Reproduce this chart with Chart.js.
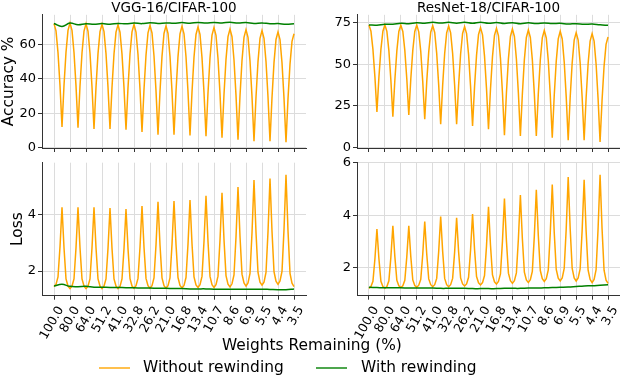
<!DOCTYPE html>
<html><head><meta charset="utf-8">
<script src="https://cdn.jsdelivr.net/npm/chart.js@4"></script>
<style>
html,body{margin:0;padding:0;background:#fff;width:620px;height:378px;overflow:hidden;font-family:"DejaVu Sans",sans-serif;color:#000;}
canvas{position:absolute;}
#xlabel{position:absolute;left:222px;top:336px;font-size:15.4px;white-space:nowrap;}
.sw{position:absolute;height:2px;top:367px;width:31px;}
.lt{position:absolute;top:358px;font-size:15.4px;white-space:nowrap;}
</style></head><body>
<canvas id="c1" width="310" height="160" style="left:0;top:0"></canvas>
<canvas id="c2" width="310" height="160" style="left:310px;top:0"></canvas>
<canvas id="c3" width="310" height="190" style="left:0;top:150px"></canvas>
<canvas id="c4" width="310" height="190" style="left:310px;top:150px"></canvas>
<div id="xlabel">Weights Remaining (%)</div>
<div class="sw" style="left:99px;background:#ffc04d"></div>
<div class="lt" style="left:143px">Without rewinding</div>
<div class="sw" style="left:316px;background:#4da64d"></div>
<div class="lt" style="left:361px">With rewinding</div>
<script>
const categories = ['100.0','80.0','64.0','51.2','41.0','32.8','26.2','21.0','16.8','13.4','10.7','8.6','6.9','5.5','4.4','3.5'];
const seriesNames = ['Without rewinding','With rewinding'];
const panelTitles = ['VGG-16/CIFAR-100','ResNet-18/CIFAR-100'];

const vggAccWithout = [
71.9,67.7,55.1,36.0,12.0,36.1,55.3,68.0,
72.2,68.0,55.2,35.8,11.6,35.7,54.9,67.6,
71.8,67.5,54.7,35.2,10.8,35.1,54.5,67.3,
71.5,67.3,54.5,35.1,10.8,35.0,54.3,67.0,
71.2,66.9,54.2,34.7,10.4,34.8,54.3,67.1,
71.4,67.0,54.0,34.0,9.1,33.8,53.6,66.6,
70.9,66.5,53.1,32.9,7.5,32.7,52.9,66.2,
70.6,66.2,52.9,32.7,7.5,32.7,52.8,66.0,
70.4,66.0,52.7,32.4,7.1,32.3,52.4,65.6,
70.0,65.6,52.2,32.0,6.6,31.8,52.0,65.2,
69.6,65.1,51.7,31.3,5.8,31.0,51.2,64.4,
68.8,64.3,50.8,30.3,4.6,30.1,50.5,63.9,
68.4,63.9,50.3,29.6,3.7,29.4,49.9,63.4,
67.9,63.4,49.9,29.4,3.7,29.1,49.3,62.7,
67.1,62.6,49.2,28.7,3.1,28.3,48.4,61.6,
66.0];
const vggAccWith = [72.0,70.3,72.2,71.2,71.8,71.5,71.9,71.6,72.0,71.8,72.2,71.9,72.4,72.0,72.3,72.1,72.5,72.1,72.6,72.2,72.6,72.3,72.7,72.2,72.5,72.0,72.3,71.8,71.9,71.6,71.8];

const resAccWithout = [
73.6,69.9,59.0,42.3,21.4,42.3,59.0,69.9,
73.6,69.8,58.2,40.6,18.6,40.6,58.1,69.7,
73.5,69.7,58.4,41.2,19.6,41.2,58.4,69.7,
73.5,69.5,57.7,39.6,17.0,39.5,57.5,69.3,
73.2,69.1,56.6,37.7,14.0,37.6,56.5,68.9,
73.0,68.9,56.5,37.6,14.0,37.4,56.2,68.5,
72.6,68.4,55.9,36.8,13.0,36.6,55.5,67.9,
72.0,67.7,54.9,35.4,11.0,35.2,54.6,67.4,
71.6,67.1,53.6,33.1,7.4,32.9,53.3,66.7,
71.2,66.7,53.2,32.7,7.0,32.4,52.8,66.1,
70.6,66.1,52.8,32.4,7.0,32.3,52.6,65.9,
70.3,65.8,52.3,31.7,6.0,31.5,51.9,65.3,
69.8,65.2,51.5,30.6,4.4,30.2,50.9,64.5,
69.0,64.5,50.9,30.2,4.4,30.0,50.5,63.9,
68.4,63.9,50.2,29.4,3.4,28.6,48.8,62.0,
66.4];
const resAccWith = [73.6,73.5,74.1,74.0,74.6,74.4,74.9,74.6,75.2,74.8,75.2,74.7,75.2,74.6,75.2,74.6,75.1,74.5,75.0,74.4,74.9,74.5,74.8,74.5,74.6,74.2,74.4,74.0,74.2,73.7,73.4];

const vggLossWithout = [
1.45,1.53,1.79,2.85,4.25,2.82,1.72,1.47,
1.38,1.47,1.72,2.82,4.25,2.82,1.72,1.47,
1.38,1.47,1.72,2.82,4.25,2.82,1.72,1.47,
1.38,1.47,1.72,2.80,4.22,2.80,1.72,1.47,
1.38,1.46,1.72,2.79,4.19,2.79,1.73,1.47,
1.39,1.48,1.74,2.84,4.29,2.84,1.74,1.48,
1.39,1.48,1.76,2.92,4.44,2.92,1.76,1.48,
1.39,1.48,1.76,2.93,4.47,2.94,1.77,1.49,
1.40,1.49,1.77,2.95,4.50,2.96,1.79,1.51,
1.42,1.52,1.81,3.04,4.65,3.04,1.81,1.52,
1.42,1.52,1.82,3.09,4.76,3.10,1.84,1.54,
1.44,1.55,1.86,3.20,4.96,3.22,1.89,1.58,
1.47,1.58,1.92,3.34,5.21,3.36,1.95,1.61,
1.50,1.61,1.95,3.38,5.26,3.40,1.98,1.64,
1.53,1.65,1.99,3.46,5.39,3.42,1.92,1.57,
1.45];
const vggLossWith = [1.47,1.53,1.46,1.45,1.46,1.43,1.43,1.42,1.42,1.41,1.41,1.40,1.40,1.39,1.39,1.38,1.38,1.37,1.37,1.37,1.36,1.36,1.36,1.36,1.36,1.36,1.36,1.35,1.34,1.34,1.37];

const resLossWithout = [
1.21,1.28,1.48,2.34,3.47,2.34,1.48,1.28,
1.21,1.28,1.50,2.40,3.59,2.42,1.52,1.31,
1.24,1.31,1.52,2.42,3.59,2.42,1.53,1.32,
1.25,1.33,1.55,2.51,3.76,2.52,1.57,1.35,
1.27,1.35,1.59,2.61,3.95,2.61,1.59,1.35,
1.27,1.35,1.59,2.59,3.90,2.60,1.61,1.38,
1.30,1.38,1.63,2.67,4.04,2.69,1.66,1.42,
1.34,1.43,1.70,2.83,4.32,2.85,1.72,1.46,
1.37,1.47,1.76,3.00,4.63,3.02,1.79,1.50,
1.40,1.50,1.80,3.09,4.77,3.10,1.83,1.53,
1.43,1.54,1.86,3.20,4.97,3.22,1.89,1.58,
1.47,1.58,1.91,3.32,5.17,3.33,1.93,1.60,
1.49,1.61,1.97,3.47,5.45,3.47,1.97,1.61,
1.49,1.61,1.95,3.42,5.35,3.39,1.90,1.55,
1.43,1.55,1.92,3.49,5.54,3.47,1.90,1.52,
1.40];
const resLossWith = [1.25,1.24,1.23,1.23,1.23,1.22,1.22,1.22,1.22,1.21,1.21,1.21,1.21,1.20,1.20,1.20,1.20,1.21,1.21,1.21,1.22,1.22,1.23,1.24,1.25,1.26,1.28,1.30,1.31,1.33,1.35];

const vggAccTicks = [0,20,40,60];
const resAccTicks = [0,25,50,75];
const vggLossTicks = [2,4];
const resLossTicks = [2,4,6];

const ORANGE = '#ffa500', GREEN = '#008000';
const FAMILY = '"DejaVu Sans", sans-serif';
const GRID = '#dcdcdc', AXIS = '#333333';

function pts(arr, step){ return arr.map((v,i)=>({x:i*step, y:v})); }

function makeChart(id, o){
  return new Chart(document.getElementById(id), {
    type:'line',
    data:{datasets:[
      {label:seriesNames[0], data:pts(o.without, 1/8), borderColor:ORANGE, borderWidth:1.5, pointRadius:0, tension:0, order:2},
      {label:seriesNames[1], data:pts(o.withR, 1/2), borderColor:GREEN, borderWidth:1.5, pointRadius:0, tension:0.4, order:1}
    ]},
    options:{
      responsive:false, animation:false, devicePixelRatio:1,
      layout:{padding:{top:o.padTop, right:o.padRight, left:0, bottom:0}},
      plugins:{
        legend:{display:false}, tooltip:{enabled:false},
        title:{display:!!o.title, text:o.title||'', fullSize:false, color:'#000',
               font:{family:FAMILY, size:13.5, weight:'normal', lineHeight:0.95}, padding:{top:2,bottom:0}}
      },
      scales:{
        x:{type:'linear', min:-0.75, max:15.75,
          afterBuildTicks:s=>{ s.ticks = categories.map((c,i)=>({value:i})); },
          afterFit:s=>{ s.height = o.xH; s.paddingLeft = 0; s.paddingRight = 0; },
          ticks:{display:o.xLabels, autoSkip:false, minRotation:60, maxRotation:60, color:'#000',
                 font:{family:FAMILY, size:12.5}, padding:4, labelOffset:7,
                 callback:(v)=>categories[v]},
          grid:{color:GRID, lineWidth:1, drawTicks:true, tickLength:4, tickColor:AXIS},
          border:{color:AXIS, width:1}
        },
        y:{type:'linear', min:o.min, max:o.max,
          afterBuildTicks:s=>{ s.ticks = o.ticks.map(v=>({value:v})); },
          afterFit:s=>{ s.width = o.yW; s.paddingTop = 0; s.paddingBottom = 0; },
          ticks:{color:'#000', font:{family:FAMILY, size:13}, padding:2},
          grid:{color:GRID, lineWidth:1, drawTicks:true, tickLength:4, tickColor:AXIS},
          border:{color:o.yBorder||AXIS, width:1},
          title:{display:!!o.ytitle, text:o.ytitle||'', color:'#000',
                 font:{family:FAMILY, size:15.4}, padding:{top:o.ytPad||0, bottom:0}}
        }
      }
    }
  });
}

makeChart('c1',{without:vggAccWithout, withR:vggAccWith, ticks:vggAccTicks, min:-0.2, max:77,
  title:panelTitles[0], ytitle:'Accuracy %', ytPad:0, yW:42, padTop:0, padRight:4, xH:12, xLabels:false});
makeChart('c2',{without:resAccWithout, withR:resAccWith, ticks:resAccTicks, min:-0.2, max:79.7,
  title:panelTitles[1], yW:47, padTop:0, padRight:0, xH:12, xLabels:false});
makeChart('c3',{without:vggLossWithout, withR:vggLossWith, ticks:vggLossTicks, min:1.13, max:5.82,
  ytitle:'Loss', ytPad:9, yW:42, padTop:12.7, padRight:4, xH:44.3, xLabels:true});
makeChart('c4',{without:resLossWithout, withR:resLossWith, ticks:resLossTicks, min:0.93, max:6.0,
  yW:47, padTop:12.7, padRight:0, xH:44.3, xLabels:true});
</script>
</body></html>
